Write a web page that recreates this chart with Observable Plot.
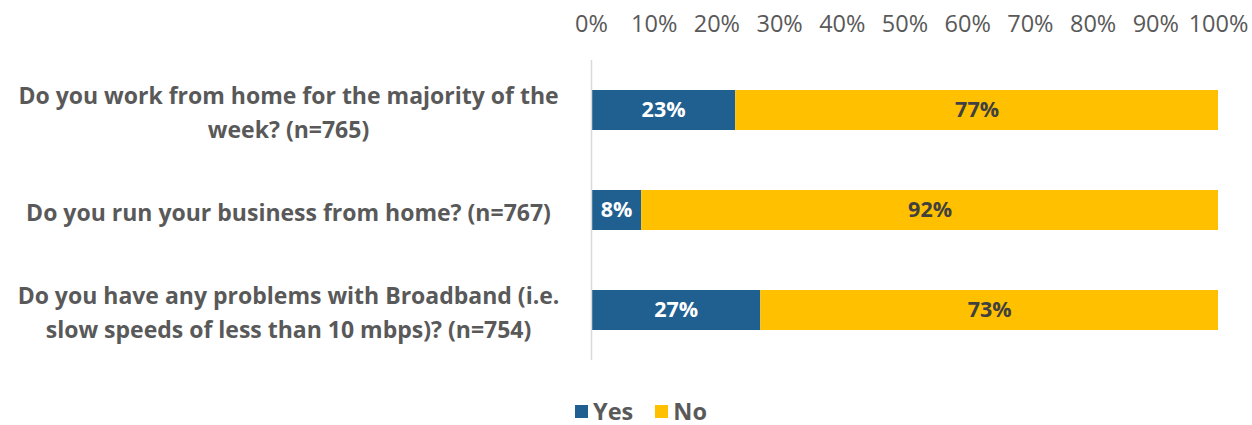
<!DOCTYPE html>
<html>
<head>
<meta charset="utf-8">
<script src="https://cdn.jsdelivr.net/npm/d3@7"></script>
<script src="https://cdn.jsdelivr.net/npm/@observablehq/plot@0.6"></script>
<style>
  html, body { margin: 0; background: #fff; font-family: "Open Sans", sans-serif; overflow: hidden; }
  #chart svg { display: block; }
  #legend { display: flex; justify-content: center; gap: 22px; padding-left: 30px; margin-top: 20px;
            font-size: 23.5px; font-weight: bold; color: #595959; line-height: 23px; height: 23px; }
  #legend span.item { display: flex; align-items: center; gap: 5px; }
  #legend span.sw { width: 13px; height: 13px; display: inline-block; }
</style>
</head>
<body>
<div id="chart"></div>
<div id="legend"></div>
<script>
const questions = [
  "Do you work from home for the majority of the\nweek? (n=765)",
  "Do you run your business from home? (n=767)",
  "Do you have any problems with Broadband (i.e.\nslow speeds of less than 10 mbps)? (n=754)"
];
const yesValues = [23, 8, 27];
const noValues = [77, 92, 73];
const answers = ["Yes", "No"];
const answerColors = ["#1F6091", "#FFC000"];
const labelColors = ["#ffffff", "#404040"];
const xTicks = [0, 10, 20, 30, 40, 50, 60, 70, 80, 90, 100];

const rows = [];
questions.forEach((q, i) => {
  rows.push({q, answer: "Yes", value: yesValues[i]});
  rows.push({q, answer: "No", value: noValues[i]});
});

const chart = Plot.plot({
  width: 1252,
  height: 380,
  marginLeft: 591,
  marginRight: 34,
  marginTop: 60,
  marginBottom: 20,
  style: {fontFamily: "'Open Sans', sans-serif", color: "#595959", background: "#fff"},
  x: {domain: [0, 100], ticks: xTicks},
  y: {domain: questions, paddingInner: 0.6, paddingOuter: 0.3},
  color: {domain: answers, range: answerColors},
  marks: [
    Plot.axisX({anchor: "top", ticks: xTicks, tickSize: 0, tickPadding: 29, fontSize: 23.5,
                tickFormat: d => d + "%", fill: "#595959", label: null}),
    Plot.axisY({tickSize: 0, tickPadding: 303, textAnchor: "middle", fontSize: 23,
                fontWeight: "bold", fill: "#595959", lineHeight: 1.48, label: null}),
    Plot.barX(rows, Plot.stackX({x: "value", y: "q", fill: "answer"})),
    Plot.text(rows, Plot.stackX({x: "value", y: "q", z: "answer",
      text: d => d.value + "%", fontSize: 21.5, fontWeight: "bold",
      fill: d => labelColors[answers.indexOf(d.answer)]})),
    Plot.ruleX([0], {stroke: "#d9d9d9", strokeWidth: 1.5})
  ]
});
document.getElementById("chart").appendChild(chart);

const legend = document.getElementById("legend");
answers.forEach((a, i) => {
  const item = document.createElement("span");
  item.className = "item";
  item.innerHTML = `<span class="sw" style="background:${answerColors[i]}"></span>${a}`;
  legend.appendChild(item);
});
</script>
</body>
</html>
